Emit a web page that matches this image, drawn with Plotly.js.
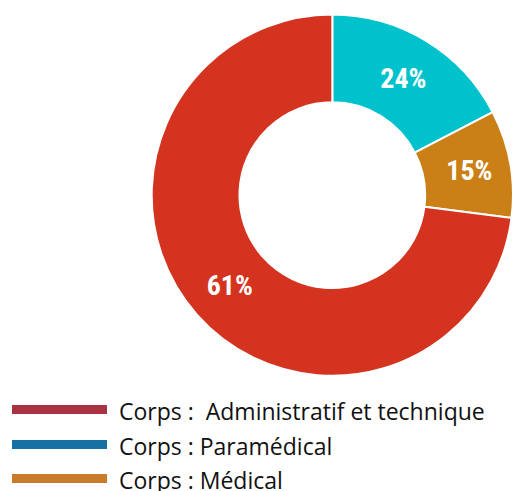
<!DOCTYPE html>
<html>
<head>
<meta charset="utf-8">
<script src="https://cdn.plot.ly/plotly-3.0.1.min.js"></script>
<style>html,body{margin:0;padding:0;background:#fff;}#chart{width:513px;height:491px;}</style>
</head>
<body>
<div id="chart"></div>
<script>
// Slice data (angular sizes) and printed labels
const sliceLabels = ["Corps : Paramédical", "Corps : Médical", "Corps :  Administratif et technique"];
const sliceValues = [17.4, 9.6, 73.0];
const sliceText = ["24%", "15%", "61%"];
const sliceColors = ["#00C2CC", "#CB7F17", "#D4341F"];

// Legend entries as shown under the chart
const legendLabels = ["Corps :  Administratif et technique", "Corps : Paramédical", "Corps : Médical"];
const legendColors = ["#A93342", "#1570A3", "#C87B28"];

const W = 513, H = 491;
const cx = 332.3, cy = 195.2, R = 180.6;

const trace = {
  type: "pie",
  labels: sliceLabels,
  values: sliceValues,
  text: sliceText,
  textinfo: "text",
  texttemplate: "%{text}",
  textposition: "inside",
  insidetextorientation: "horizontal",
  sort: false,
  direction: "clockwise",
  rotation: 0,
  hole: 0.514,
  marker: { colors: sliceColors, line: { color: "#ffffff", width: 2 } },
  insidetextfont: { family: "Roboto Condensed, sans-serif", size: 28, color: "#ffffff", weight: "bold" },
  showlegend: false,
  hoverinfo: "label+text",
  domain: { x: [(cx - R) / W, Math.min(1, (cx + R) / W)], y: [1 - (cy + R) / H, 1 - (cy - R) / H] }
};

const barY = [409.5, 444.5, 478.5];
const shapes = [], annotations = [];
legendLabels.forEach((lab, i) => {
  shapes.push({
    type: "rect", xref: "paper", yref: "paper",
    x0: 12 / W, x1: 107 / W,
    y0: 1 - (barY[i] + 4.5) / H, y1: 1 - (barY[i] - 4.5) / H,
    fillcolor: legendColors[i], line: { width: 0 }
  });
  annotations.push({
    xref: "paper", yref: "paper", x: 117 / W, y: 1 - (barY[i] + 1.5) / H,
    xanchor: "left", yanchor: "middle", showarrow: false,
    text: lab, font: { family: "Open Sans, sans-serif", size: 23, color: "#111111" }
  });
});

const layout = {
  width: W, height: H,
  margin: { l: 0, r: 0, t: 0, b: 0 },
  paper_bgcolor: "#ffffff",
  showlegend: false,
  shapes: shapes,
  annotations: annotations
};

Plotly.newPlot("chart", [trace], layout, { displayModeBar: false, staticPlot: true });
</script>
</body>
</html>
